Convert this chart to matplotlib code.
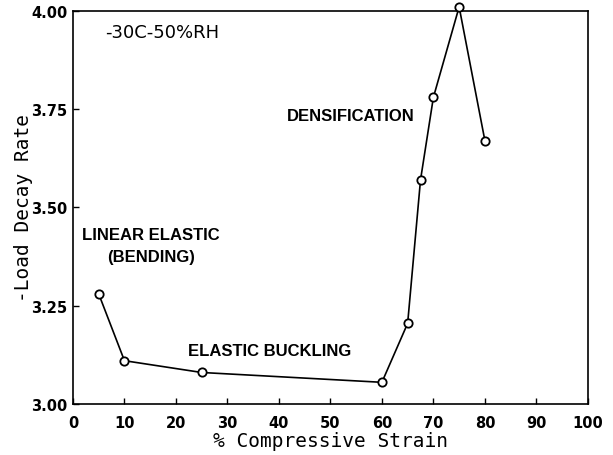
import matplotlib
matplotlib.use("Agg")
import matplotlib.pyplot as plt

# load decay rate vs compressive strain, -30C / 50%RH
strain = [5, 10, 25, 60, 65, 67.5, 70, 75, 80]
decay_rate = [3.28, 3.11, 3.08, 3.055, 3.205, 3.57, 3.78, 4.01, 3.67]

x_ticks = [0, 10, 20, 30, 40, 50, 60, 70, 80, 90, 100]
y_ticks = [3.00, 3.25, 3.50, 3.75, 4.00]
y_tick_labels = ["3.00", "3.25", "3.50", "3.75", "4.00"]

fig = plt.figure(figsize=(6.13, 4.56), dpi=100)
ax = fig.add_axes([0.119, 0.112, 0.840, 0.862])

ax.plot(strain, decay_rate, color="black", lw=1.2, marker="o", ms=6,
        mfc="white", mec="black", mew=1.3, clip_on=False, zorder=3)

ax.set_xlim(0, 100)
ax.set_ylim(3.0, 4.0)
ax.set_xticks(x_ticks)
ax.set_xticklabels([str(t) for t in x_ticks], fontsize=10.5, fontweight="bold")
ax.set_yticks(y_ticks)
ax.set_yticklabels(y_tick_labels, fontsize=10.5, fontweight="bold")
ax.tick_params(direction="in", length=4, width=1.0, pad=4)
ax.tick_params(axis="x", pad=8)
for s in ax.spines.values():
    s.set_linewidth(1.2)

label_font = dict(fontsize=14, family="DejaVu Sans Mono")
ax.set_xlabel("% Compressive Strain", labelpad=1, **label_font)
ax.set_ylabel("-Load Decay Rate", labelpad=-1, **label_font)

ax.text(6.3, 3.945, "-30C-50%RH", fontsize=13, va="center")
bold = dict(fontsize=12, fontweight="bold", family="Liberation Sans")
ax.text(54, 3.735, "DENSIFICATION", ha="center", va="center", **bold)
ax.text(15.2, 3.43, "LINEAR ELASTIC", ha="center", va="center", **bold)
ax.text(15.2, 3.375, "(BENDING)", ha="center", va="center", **bold)
ax.text(38.2, 3.135, "ELASTIC BUCKLING", ha="center", va="center", **bold)

fig.savefig("out.png", dpi=100)
